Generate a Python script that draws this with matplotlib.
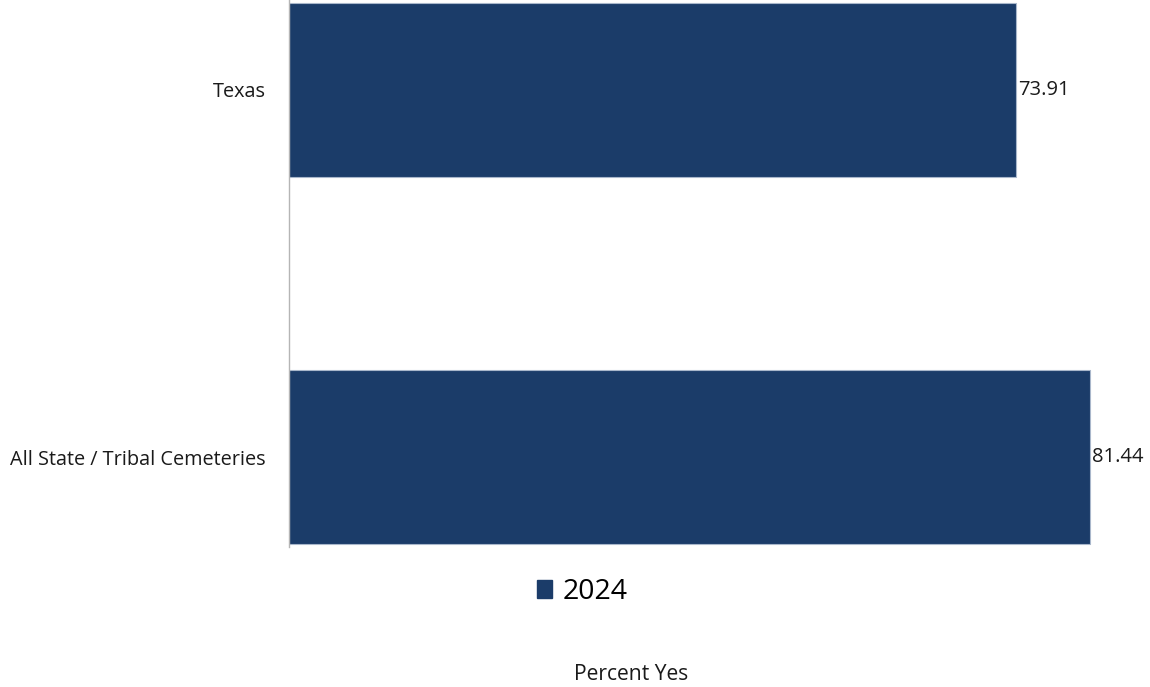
import matplotlib.pyplot as plt
from matplotlib.patches import Patch

plt.rcParams['font.family'] = ['Open Sans', 'DejaVu Sans']

# data
categories = ["Texas", "All State / Tribal Cemeteries"]
values = [73.91, 81.44]
series_name = "2024"

bar_color = "#1b3c69"

fig = plt.figure(figsize=(11.5, 6.87), dpi=100)
W, H = 1150, 687
# axes: left 289px, top 0px, bottom 547px
ax = fig.add_axes([289 / W, 1 - 547 / H, (1145 - 289) / W, 547 / H])

y = list(range(len(categories)))
bars = ax.barh(y, values, height=0.474, color=bar_color,
               edgecolor="#a9b7cb", linewidth=0.8)

ax.set_xlim(0, 87.03)
ax.set_ylim(1.245, -0.245)

for yi, v in zip(y, values):
    ax.text(v + 0.2, yi, f"{v:.2f}", ha="left", va="center",
            fontsize=14.5, color="#1a1a1a")

ax.set_yticks(y)
ax.set_yticklabels(categories, fontsize=14.3, color="#1a1a1a")
ax.tick_params(axis="y", length=0, pad=17)
ax.set_xticks([])

for s in ["top", "right", "bottom"]:
    ax.spines[s].set_visible(False)
ax.spines["left"].set_color("#b5b5b5")
ax.spines["left"].set_linewidth(1)

handles = [Patch(facecolor=bar_color, edgecolor=bar_color, label=series_name)]
fig.legend(handles=handles, loc="center",
           bbox_to_anchor=(582 / W, 1 - 592 / H),
           frameon=False, fontsize=20.5, handlelength=0.56, handleheight=0.56,
           handletextpad=0.35)

fig.text(631 / W, 1 - 675 / H, "Percent Yes", ha="center", va="center",
         fontsize=15.2, color="#1a1a1a")

fig.savefig("out.png", dpi=100)
